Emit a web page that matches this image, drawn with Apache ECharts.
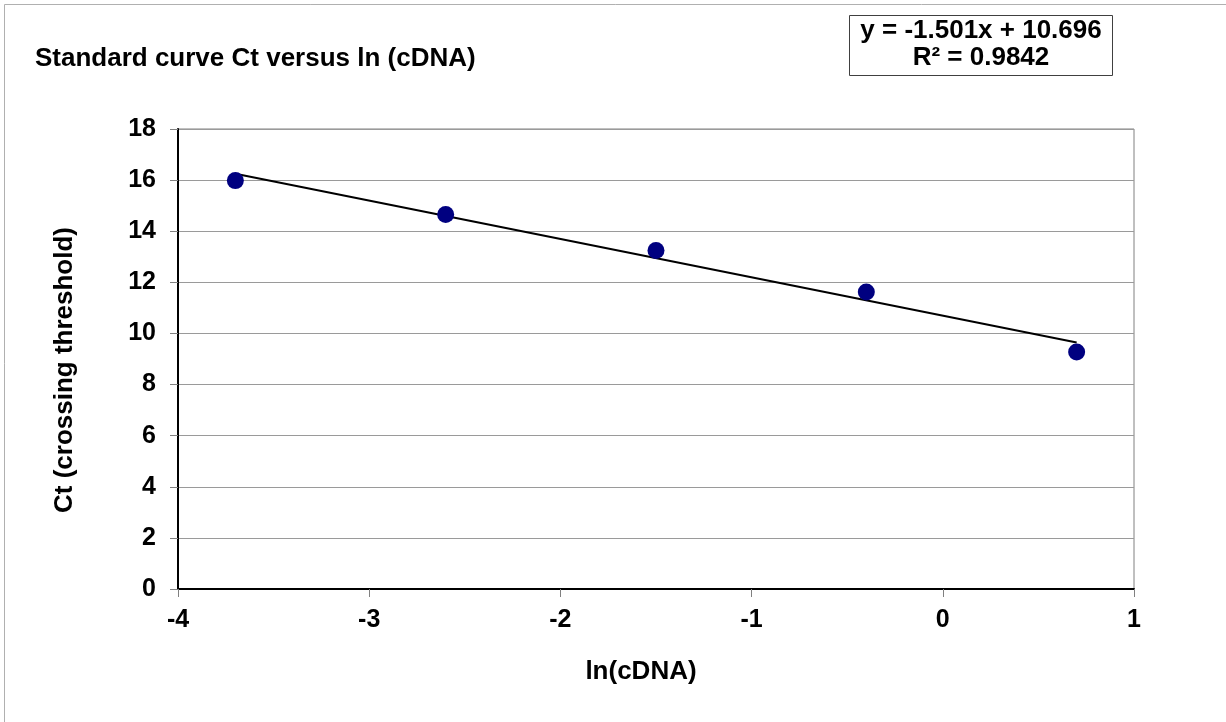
<!DOCTYPE html>
<html>
<head>
<meta charset="utf-8">
<script src="https://cdn.jsdelivr.net/npm/echarts@6/dist/echarts.min.js"></script>
<style>
html,body{margin:0;padding:0;background:#fff;}
#chart{width:1226px;height:722px;}
</style>
</head>
<body>
<div id="chart"></div>
<script>
// Data
const lnCDNA = [-3.7, -2.6, -1.5, -0.4, 0.7];
const ctValues = [15.98, 14.65, 13.25, 11.62, 9.27];
const yTicks = [0, 2, 4, 6, 8, 10, 12, 14, 16, 18];
const xTicks = [-4, -3, -2, -1, 0, 1];
const trendSlope = -1.501;
const trendIntercept = 10.696;
const rSquared = 0.9842;
const titleText = 'Standard curve Ct versus ln (cDNA)';
const xAxisName = 'ln(cDNA)';
const yAxisName = 'Ct (crossing threshold)';

const FONT = '"Liberation Sans", Arial, sans-serif';
const scatterData = lnCDNA.map((x, i) => [x, ctValues[i]]);
const xMinData = Math.min(...lnCDNA), xMaxData = Math.max(...lnCDNA);
const trendData = [
  [xMinData, trendSlope * xMinData + trendIntercept],
  [xMaxData, trendSlope * xMaxData + trendIntercept]
];
const eqText = 'y = ' + trendSlope.toFixed(3) + 'x + ' + trendIntercept.toFixed(3);
const r2Text = 'R\u00B2 = ' + rSquared.toFixed(4);

const chart = echarts.init(document.getElementById('chart'), null, {renderer: 'canvas'});
chart.setOption({
  animation: false,
  backgroundColor: '#ffffff',
  grid: {left: 178, right: 92, top: 129, bottom: 133, show: true, borderColor: '#808080', borderWidth: 1, backgroundColor: 'transparent'},
  title: {
    text: titleText, left: 30, top: 41,
    textStyle: {fontFamily: FONT, fontSize: 26, fontWeight: 'bold', color: '#000'}
  },
  xAxis: {
    type: 'value', min: xTicks[0], max: xTicks[xTicks.length - 1], interval: 1,
    name: xAxisName, nameLocation: 'middle', nameGap: 70,
    nameTextStyle: {fontFamily: FONT, fontSize: 26, fontWeight: 'bold', color: '#000', padding: [0, 30, 0, 0]},
    axisLine: {show: true, onZero: false, lineStyle: {color: '#000', width: 2}},
    axisTick: {show: true, inside: false, length: 8, lineStyle: {color: '#808080', width: 1}},
    axisLabel: {margin: 19, fontFamily: FONT, fontSize: 25, fontWeight: 'bold', color: '#000'},
    splitLine: {show: false}
  },
  yAxis: {
    type: 'value', min: yTicks[0], max: yTicks[yTicks.length - 1], interval: 2,
    name: yAxisName, nameLocation: 'middle', nameGap: 100, nameRotate: 90,
    nameTextStyle: {fontFamily: FONT, fontSize: 26, fontWeight: 'bold', color: '#000', padding: [0, 22, 0, 0]},
    axisLine: {show: true, onZero: false, lineStyle: {color: '#000', width: 2}},
    axisTick: {show: true, inside: false, length: 8, lineStyle: {color: '#808080', width: 1}},
    axisLabel: {margin: 22, fontFamily: FONT, fontSize: 25, fontWeight: 'bold', color: '#000'},
    splitLine: {show: true, lineStyle: {color: '#9a9a9a', width: 1}}
  },
  graphic: [
    {type: 'rect', shape: {x: 4.5, y: 4.5, width: 1400, height: 900}, style: {fill: 'none', stroke: '#b0b0b0', lineWidth: 1}, silent: true, z: 0},
    {type: 'rect', shape: {x: 849.5, y: 15.5, width: 263, height: 60}, style: {fill: '#fff', stroke: '#404040', lineWidth: 1}, z: 10},
    {type: 'text', x: 981, y: 31, style: {text: eqText, fontFamily: FONT, fontSize: 26, fontWeight: 'bold', fill: '#000', align: 'center', verticalAlign: 'middle'}, z: 11},
    {type: 'text', x: 981, y: 58, style: {text: r2Text, fontFamily: FONT, fontSize: 26, fontWeight: 'bold', fill: '#000', align: 'center', verticalAlign: 'middle'}, z: 11}
  ],
  series: [
    {
      type: 'line', data: trendData, symbol: 'none', silent: true,
      lineStyle: {color: '#000', width: 2}, z: 3
    },
    {
      type: 'scatter', data: scatterData, symbol: 'circle', symbolSize: 17,
      itemStyle: {color: '#000080', opacity: 1}, z: 4
    }
  ]
});
</script>
</body>
</html>
